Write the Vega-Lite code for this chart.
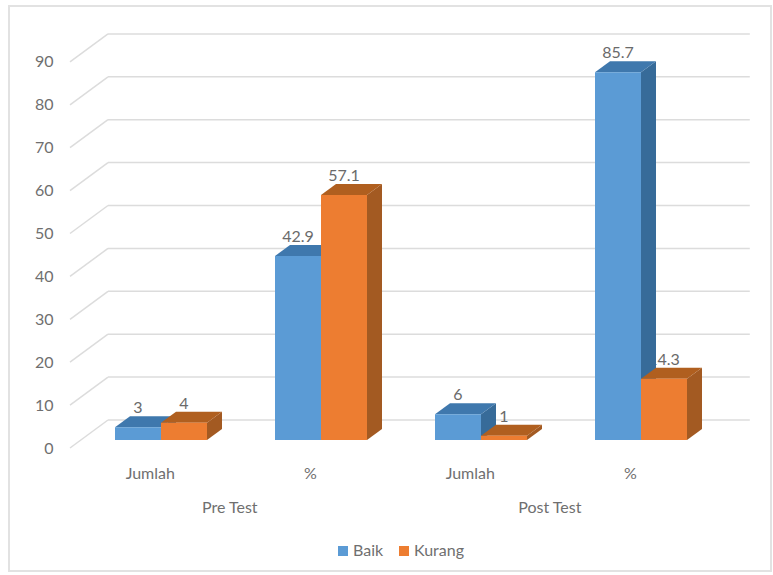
{"$schema":"https://vega.github.io/schema/vega-lite/v6.json","width":762,"height":565,"padding":{"left":9,"top":6,"right":2,"bottom":4},"autosize":{"type":"none"},"background":"white","view":{"stroke":"#e2e2e2","strokeWidth":2,"fill":"white"},"config":{"font":"Lato","text":{"font":"Lato"}},"datasets":{"bars":[{"group":"Pre Test","metric":"Jumlah","series":"Baik","value":3},{"group":"Pre Test","metric":"%","series":"Baik","value":42.9},{"group":"Post Test","metric":"Jumlah","series":"Baik","value":6},{"group":"Post Test","metric":"%","series":"Baik","value":85.7},{"group":"Pre Test","metric":"Jumlah","series":"Kurang","value":4},{"group":"Pre Test","metric":"%","series":"Kurang","value":57.1},{"group":"Post Test","metric":"Jumlah","series":"Kurang","value":1},{"group":"Post Test","metric":"%","series":"Kurang","value":14.3}],"ticks":[{"tick":0},{"tick":10},{"tick":20},{"tick":30},{"tick":40},{"tick":50},{"tick":60},{"tick":70},{"tick":80},{"tick":90}],"groups":[{"group":"Pre Test"},{"group":"Post Test"}]},"layer":[{"data":{"name":"ticks"},"transform":[{"calculate":"0.03125","as":"xa"},{"calculate":"0.26875","as":"xb"},{"calculate":"datum.tick+6.53","as":"yb"}],"mark":{"type":"rule","color":"#dcdcdc","strokeWidth":1.5},"encoding":{"x":{"field":"xa","type":"quantitative","scale":{"domain":[-0.35,4.4125],"nice":false,"zero":false},"title":null,"axis":{"values":[0.53,1.53,2.53,3.53],"labelExpr":"(datum.value<1||(datum.value>2&&datum.value<3))?'Jumlah':'%'","domain":false,"ticks":false,"grid":false,"offset":-123,"labelPadding":25,"labelBaseline":"middle","labelFont":"Lato","labelFontSize":16,"labelColor":"#6f6f6f","labelFlush":false,"labelOverlap":false}},"x2":{"field":"xb"},"y":{"field":"tick","type":"quantitative","scale":{"domain":[-28.67,103.03],"nice":false,"zero":false},"title":null,"axis":{"values":[0,10,20,30,40,50,60,70,80,90],"domain":false,"ticks":false,"grid":false,"offset":-50,"labelPadding":6,"labelFont":"Lato","labelFontSize":16,"labelColor":"#6f6f6f","labelFlush":false,"labelOverlap":false}},"y2":{"field":"yb"}}},{"data":{"name":"ticks"},"transform":[{"calculate":"0.26875","as":"xb"},{"calculate":"4.28","as":"xc"},{"calculate":"datum.tick+6.53","as":"yb"}],"mark":{"type":"rule","color":"#dcdcdc","strokeWidth":1.5},"encoding":{"x":{"field":"xb","type":"quantitative","title":null,"scale":{"domain":[-0.35,4.4125],"nice":false,"zero":false}},"x2":{"field":"xc"},"y":{"field":"yb","type":"quantitative","title":null,"scale":{"domain":[-28.67,103.03],"nice":false,"zero":false}}}},{"data":{"name":"groups"},"transform":[{"calculate":"datum.group=='Pre Test'?1.03:3.03","as":"xg"},{"calculate":"0","as":"y0"}],"mark":{"type":"text","font":"Lato","fontSize":16,"color":"#6f6f6f","yOffset":60,"baseline":"middle"},"encoding":{"x":{"field":"xg","type":"quantitative","title":null,"scale":{"domain":[-0.35,4.4125],"nice":false,"zero":false}},"y":{"field":"y0","type":"quantitative","title":null,"scale":{"domain":[-28.67,103.03],"nice":false,"zero":false}},"text":{"field":"group"}}},{"data":{"name":"bars"},"transform":[{"calculate":"0.2875","as":"w"},{"calculate":"0.09375","as":"dx"},{"calculate":"2.56","as":"e"},{"calculate":"1.865","as":"base"},{"calculate":"datum.base+datum.value","as":"top"},{"calculate":"0.3125+(datum.group=='Post Test'?2:0)+(datum.metric=='%'?1:0)+(datum.series=='Kurang'?datum.w:0)","as":"x0"},{"calculate":"datum.x0+datum.w","as":"x1"},{"calculate":"datum.x0+datum.w/2","as":"xm"},{"calculate":"datum.group+datum.metric","as":"id"}],"layer":[{"mark":{"type":"text","font":"Lato","fontSize":16,"color":"#6a6a6a","yOffset":-19,"baseline":"middle"},"encoding":{"x":{"field":"xm","type":"quantitative","title":null,"scale":{"domain":[-0.35,4.4125],"nice":false,"zero":false}},"y":{"field":"top","type":"quantitative","title":null,"scale":{"domain":[-28.67,103.03],"nice":false,"zero":false}},"text":{"field":"value"}}},{"transform":[{"filter":"datum.series=='Baik'"},{"calculate":"[0,1]","as":"k"},{"flatten":["k"]},{"calculate":"datum.x1+datum.k*datum.dx","as":"px"},{"calculate":"datum.top+datum.k*datum.e","as":"yt"},{"calculate":"datum.base+datum.k*datum.e","as":"yl"}],"mark":{"type":"area","orient":"vertical","color":"#376B99"},"encoding":{"x":{"field":"px","type":"quantitative","title":null,"scale":{"domain":[-0.35,4.4125],"nice":false,"zero":false}},"y":{"field":"yt","type":"quantitative","title":null,"scale":{"domain":[-28.67,103.03],"nice":false,"zero":false}},"y2":{"field":"yl"},"detail":{"field":"id"}}},{"transform":[{"filter":"datum.series=='Baik'"},{"calculate":"[0,1,2,3]","as":"k"},{"flatten":["k"]},{"calculate":"datum.x0+[0,datum.dx,datum.w,datum.w+datum.dx][datum.k]","as":"px"},{"calculate":"datum.top+[0,datum.e,datum.e,datum.e][datum.k]","as":"yt"},{"calculate":"datum.top+[0,0,0,datum.e][datum.k]","as":"yl"}],"mark":{"type":"area","orient":"vertical","color":"#3F78AD"},"encoding":{"x":{"field":"px","type":"quantitative","title":null,"scale":{"domain":[-0.35,4.4125],"nice":false,"zero":false}},"y":{"field":"yt","type":"quantitative","title":null,"scale":{"domain":[-28.67,103.03],"nice":false,"zero":false}},"y2":{"field":"yl"},"detail":{"field":"id"}}},{"transform":[{"filter":"datum.series=='Baik'"}],"mark":{"type":"rect"},"encoding":{"x":{"field":"x0","type":"quantitative","title":null,"scale":{"domain":[-0.35,4.4125],"nice":false,"zero":false}},"x2":{"field":"x1"},"y":{"field":"top","type":"quantitative","title":null,"scale":{"domain":[-28.67,103.03],"nice":false,"zero":false}},"y2":{"field":"base"},"color":{"field":"series","type":"nominal","scale":{"domain":["Baik","Kurang"],"range":["#5B9BD5","#ED7D31"]},"legend":{"title":null,"orient":"none","legendX":326,"legendY":537,"direction":"horizontal","symbolType":"square","symbolSize":100,"labelFont":"Lato","labelFontSize":16,"labelColor":"#6f6f6f","labelOffset":2,"columnPadding":12}}}},{"transform":[{"filter":"datum.series=='Kurang'"},{"calculate":"[0,1]","as":"k"},{"flatten":["k"]},{"calculate":"datum.x1+datum.k*datum.dx","as":"px"},{"calculate":"datum.top+datum.k*datum.e","as":"yt"},{"calculate":"datum.base+datum.k*datum.e","as":"yl"}],"mark":{"type":"area","orient":"vertical","color":"#A35A22"},"encoding":{"x":{"field":"px","type":"quantitative","title":null,"scale":{"domain":[-0.35,4.4125],"nice":false,"zero":false}},"y":{"field":"yt","type":"quantitative","title":null,"scale":{"domain":[-28.67,103.03],"nice":false,"zero":false}},"y2":{"field":"yl"},"detail":{"field":"id"}}},{"transform":[{"filter":"datum.series=='Kurang'"},{"calculate":"[0,1,2,3]","as":"k"},{"flatten":["k"]},{"calculate":"datum.x0+[0,datum.dx,datum.w,datum.w+datum.dx][datum.k]","as":"px"},{"calculate":"datum.top+[0,datum.e,datum.e,datum.e][datum.k]","as":"yt"},{"calculate":"datum.top+[0,0,0,datum.e][datum.k]","as":"yl"}],"mark":{"type":"area","orient":"vertical","color":"#B05F1F"},"encoding":{"x":{"field":"px","type":"quantitative","title":null,"scale":{"domain":[-0.35,4.4125],"nice":false,"zero":false}},"y":{"field":"yt","type":"quantitative","title":null,"scale":{"domain":[-28.67,103.03],"nice":false,"zero":false}},"y2":{"field":"yl"},"detail":{"field":"id"}}},{"transform":[{"filter":"datum.series=='Kurang'"}],"mark":{"type":"rect"},"encoding":{"x":{"field":"x0","type":"quantitative","title":null,"scale":{"domain":[-0.35,4.4125],"nice":false,"zero":false}},"x2":{"field":"x1"},"y":{"field":"top","type":"quantitative","title":null,"scale":{"domain":[-28.67,103.03],"nice":false,"zero":false}},"y2":{"field":"base"},"color":{"field":"series","type":"nominal","scale":{"domain":["Baik","Kurang"],"range":["#5B9BD5","#ED7D31"]},"legend":{"title":null,"orient":"none","legendX":326,"legendY":537,"direction":"horizontal","symbolType":"square","symbolSize":100,"labelFont":"Lato","labelFontSize":16,"labelColor":"#6f6f6f","labelOffset":2,"columnPadding":12}}}}]}]}
